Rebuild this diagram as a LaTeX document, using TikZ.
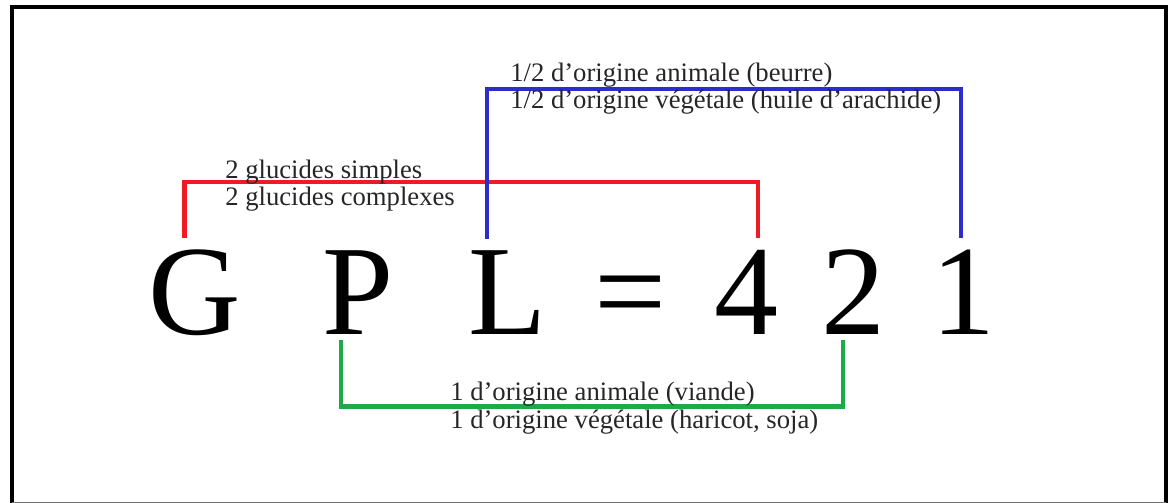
\documentclass[tikz,border=0pt]{standalone}
\usepackage{fontspec}
\setmainfont{Liberation Serif}
\definecolor{gplred}{RGB}{237,28,36}
\definecolor{gplblue}{RGB}{45,45,205}
\definecolor{gplgreen}{RGB}{30,170,70}
\begin{document}
\begin{tikzpicture}[
        x=0.75pt, y=0.75pt,
        letter/.style={font=\fontsize{96}{96}\selectfont, inner sep=0pt, anchor=base},
        lbl/.style={font=\fontsize{20}{20}\selectfont, inner sep=0pt, anchor=base west, text=black!85},
        link/.style={line width=3.5pt}
    ]
    \useasboundingbox (0,0) rectangle (1171,503);

    % =====================================================
    % Frame
    % =====================================================
    \draw[line width=3pt] (12,0) -- (12,496) -- (1166,496) -- (1166,0);
    \draw[line width=0.8pt, black!55] (12,0.5) -- (1166,0.5);

    % =====================================================
    % Formula
    % =====================================================
    \node[letter] (G)  at (195,168) {G};
    \node[letter] (P)  at (358,168) {P};
    \node[letter] (L)  at (508,168) {L};
    \node[letter] (eq) at (631,168) {=};
    \node[letter] (n4) at (746,168) {4};
    \node[letter] (n2) at (853,168) {2};
    \node[letter] (n1) at (963,168) {1};

    % Glucides (red)
    \draw[link, gplred] ([xshift=-8pt,yshift=9pt]G.north) -- ++(0,56)
        -| ([xshift=9pt,yshift=9pt]n4.north);
    \node[lbl] (gluA) at (225,324) {2 glucides simples};
    \node[lbl] (gluB) at (225,297) {2 glucides complexes};

    % Lipides (blue)
    \draw[link, gplblue] ([xshift=-15.75pt,yshift=9pt]L.north) -- ++(0,150)
        -| ([xshift=-1.5pt,yshift=9pt]n1.north);
    \node[lbl] (lipA) at (510,421) {1/2 d'origine animale (beurre)};
    \node[lbl] (lipB) at (510,394) {1/2 d'origine végétale (huile d'arachide)};

    % Protides (green)
    \draw[link, gplgreen] ([xshift=-12.75pt,yshift=-3.75pt]P.south) -- ++(0,-66)
        -| ([xshift=-7.5pt,yshift=-3.75pt]n2.south);
    \node[lbl] (proA) at (450,102) {1 d'origine animale (viande)};
    \node[lbl] (proB) at (450,74) {1 d'origine végétale (haricot, soja)};

\end{tikzpicture}
\end{document}
